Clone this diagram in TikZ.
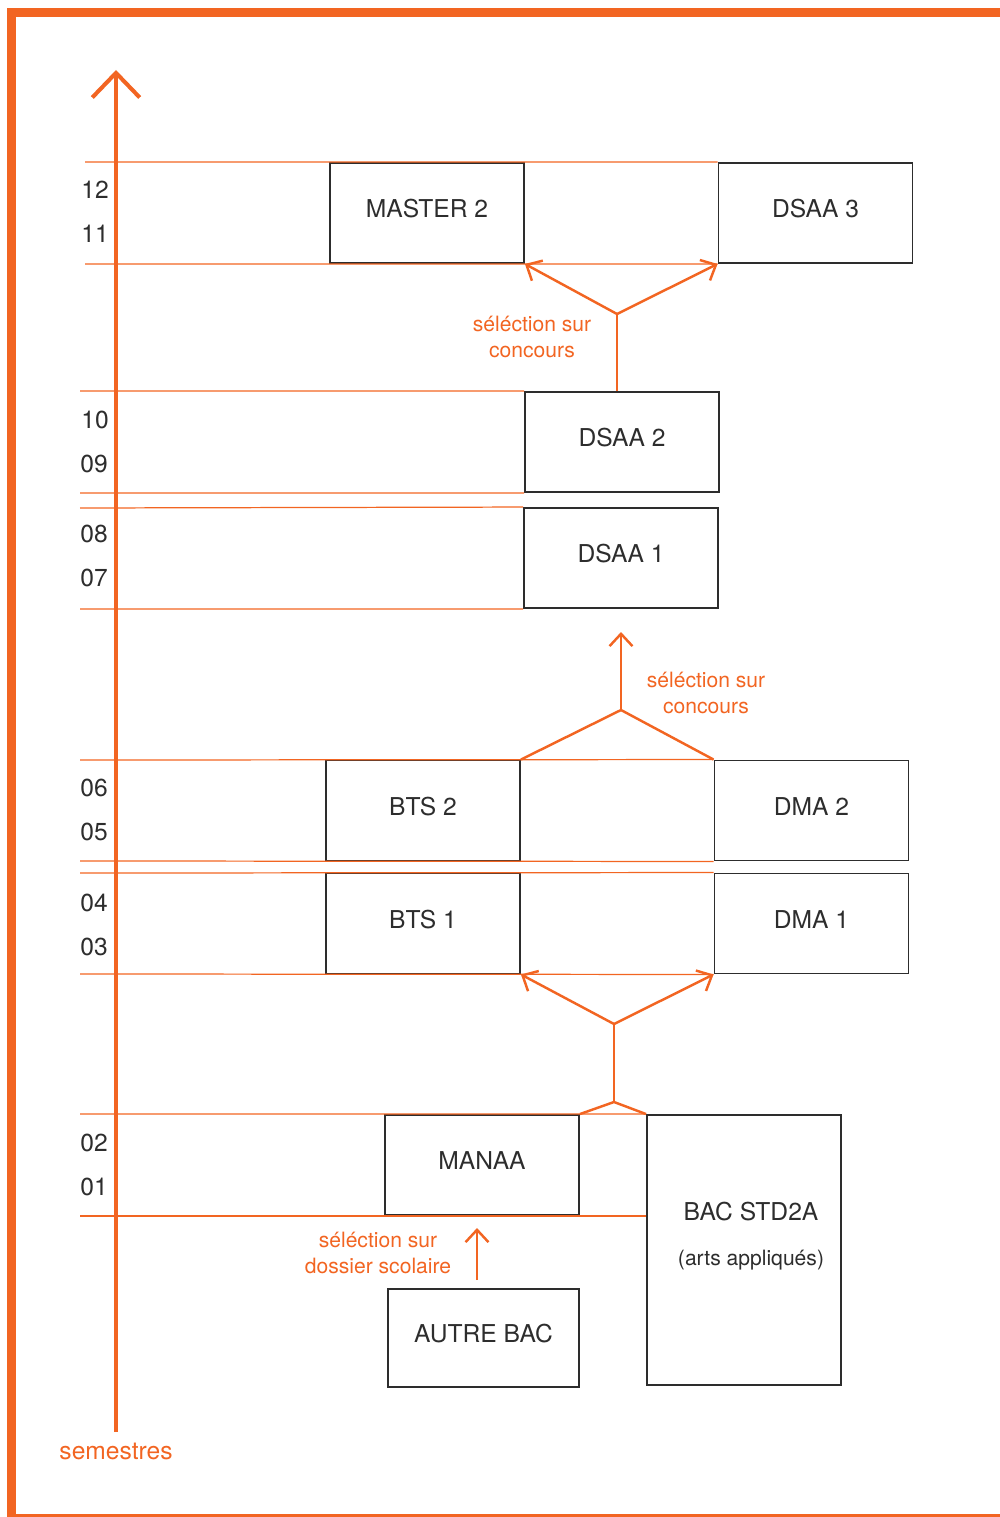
\documentclass[tikz,border=0pt]{standalone}
\usepackage{fontspec}
\setmainfont{TeX Gyre Heros}
\usetikzlibrary{arrows.meta, positioning}

\definecolor{orangevif}{RGB}{242,101,34}
\definecolor{gristexte}{RGB}{45,45,45}

\tikzset{
    boite/.style={rectangle,draw=gristexte,line width=1.1pt,minimum width=3.88cm,minimum height=2cm,text=gristexte,text height=10pt,text depth=4.4pt,font=\fontsize{14}{16}\selectfont},
    regle/.style={draw=orangevif,line width=0.7pt},
    lien/.style={draw=orangevif,line width=1.4pt,line join=miter},
    fleche/.style={lien,-{Straight Barb[length=7pt,width=13pt]}},
    note/.style={text=orangevif,font=\fontsize{12}{14.8}\selectfont,align=center},
    semestre/.style={text=gristexte,font=\fontsize{14}{16}\selectfont}
}

\begin{document}
\begin{tikzpicture}[x=0.02cm,y=-0.02cm]
    \useasboundingbox (0,0) rectangle (1000,1517);

    % Cadre
    \draw[orangevif,line width=5.1pt] (1010,12.5) -- (11.5,12.5) -- (11.5,1518.5) -- (1010,1518.5);

    % Axe des semestres
    \coordinate (axebas) at (116,1432);
    \coordinate (axehaut) at (116,70);
    \draw[orangevif,line width=2.3pt,-{Straight Barb[length=14pt,width=27pt]}] (axebas) -- (axehaut);
    \node[note,font=\fontsize{14}{16}\selectfont] (semestres) at (116,1451) {semestres};

    % Formations
    \node[boite] (master) at (427,213) {MASTER 2};
    \node[boite] (dsaa3) at (815.5,213) {DSAA 3};
    \node[boite] (dsaa2) at (622,442) {DSAA 2};
    \node[boite] (dsaa1) at (621,558) {DSAA 1};
    \node[boite] (bts2) at (423,810.5) {BTS 2};
    \node[boite] (dma2) at (811.5,810.5) {DMA 2};
    \node[boite] (bts1) at (423,923.5) {BTS 1};
    \node[boite] (dma1) at (811.5,923.5) {DMA 1};
    \node[boite] (manaa) at (482,1165) {MANAA};
    \node[boite,minimum height=5.4cm] (bac) at (744,1250) {};
    \node[semestre] (bactitre) at (751,1212) {BAC STD2A};
    \node[semestre,font=\fontsize{12}{14}\selectfont] (bacsous) at (751,1260) {(arts appliqués)};
    \node[boite,minimum width=3.82cm,minimum height=1.96cm] (autre) at (483.5,1338) {AUTRE BAC};

    % Lignes des semestres
    \draw[regle] (85,162) -- (dsaa3.north west);
    \draw[regle] (85,264) -- (dsaa3.south west);
    \draw[regle] (80,391) -- (dsaa2.north west);
    \draw[regle] (80,493) -- (dsaa2.south west);
    \draw[regle] (80,508) -- (dsaa1.north west);
    \draw[regle] (80,609) -- (dsaa1.south west);
    \draw[regle] (80,760) -- (dma2.north west);
    \draw[regle] (80,861) -- (dma2.south west);
    \draw[regle] (80,873) -- (dma1.north west);
    \draw[regle] (80,974) -- (dma1.south west);
    \draw[regle] (80,1114) -- (bac.north west);
    \draw[regle] (80,1216) -- (bac.south west |- 0,1216);

    % Numeros des semestres
    \node[semestre] (s12) at (95,190) {12};
    \node[semestre] (s11) at (95,234) {11};
    \node[semestre] (s10) at (95,420) {10};
    \node[semestre] (s09) at (94,464) {09};
    \node[semestre] (s08) at (94,534) {08};
    \node[semestre] (s07) at (94,578) {07};
    \node[semestre] (s06) at (94,788) {06};
    \node[semestre] (s05) at (94,832) {05};
    \node[semestre] (s04) at (94,903) {04};
    \node[semestre] (s03) at (94,947) {03};
    \node[semestre] (s02) at (94,1143) {02};
    \node[semestre] (s01) at (94,1187) {01};

    % DSAA 2 vers MASTER 2 / DSAA 3
    \coordinate (noeud1) at (617,314);
    \draw[lien] (dsaa2.north -| noeud1) -- (noeud1);
    \draw[fleche] (noeud1) -- (master.south east);
    \draw[fleche] (noeud1) -- (dsaa3.south west);
    \node[note] (concours1) at (532,337) {séléction sur\\concours};

    % BTS 2 / DMA 2 vers DSAA 1
    \coordinate (noeud2) at (621,710);
    \coordinate (pointe2) at (621,632);
    \draw[lien] (bts2.north east) -- (noeud2) -- (dma2.north west);
    \draw[fleche] (noeud2) -- (pointe2);
    \node[note] (concours2) at (706,693) {séléction sur\\concours};

    % MANAA / BAC vers BTS 1 / DMA 1
    \coordinate (noeud3) at (614,1102);
    \coordinate (noeud4) at (614,1024);
    \draw[lien] (manaa.north east) -- (noeud3) -- (bac.north west);
    \draw[lien] (noeud3) -- (noeud4);
    \draw[fleche] (noeud4) -- (bts1.south east);
    \draw[fleche] (noeud4) -- (dma1.south west);

    % AUTRE BAC vers MANAA
    \coordinate (depart5) at (477,1280);
    \coordinate (pointe5) at (477,1228);
    \draw[fleche] (depart5) -- (pointe5);
    \node[note] (dossier) at (378,1253) {séléction sur\\dossier scolaire};
\end{tikzpicture}
\end{document}
